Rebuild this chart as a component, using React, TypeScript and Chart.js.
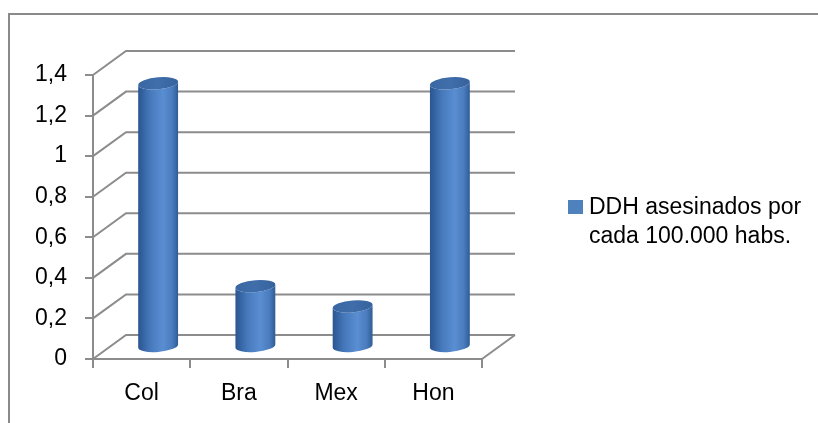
import React, { useEffect, useRef } from 'react';
import { Chart, registerables } from 'chart.js';

Chart.register(...registerables);

// ---- data ----
const categories = ['Col', 'Bra', 'Mex', 'Hon'];
const values = [1.3, 0.3, 0.2, 1.3];
const seriesLabel = ['DDH asesinados por', 'cada 100.000 habs.'];
const yMin = 0;
const yMax = 1.4;
const yStep = 0.2;

// ---- style ----
const FONT = '"Liberation Sans", Arial, sans-serif';
const FONT_SIZE = 23;
const GRID = '#8C8C8C';
const DX = 33;
const DY = -24;
const SERIES_COLOR = '#4F81BD';

const fmt = (v: number) => String(Math.round(v * 10) / 10).replace('.', ',');

const wallsPlugin = {
  id: 'walls3d',
  beforeDraw(chart: any) {
    const ctx = chart.ctx;
    ctx.save();
    ctx.strokeStyle = '#8A8A8A';
    ctx.lineWidth = 2;
    ctx.beginPath();
    ctx.moveTo(9, chart.height + 5);
    ctx.lineTo(9, 14);
    ctx.lineTo(chart.width + 5, 14);
    ctx.stroke();
    ctx.restore();
  },
  beforeDatasetsDraw(chart: any) {
    const ctx = chart.ctx;
    const y = chart.scales.y;
    const x = chart.scales.x;
    const { left, right, bottom } = chart.chartArea;
    ctx.save();
    ctx.strokeStyle = GRID;
    ctx.lineWidth = 2;
    ctx.lineCap = 'butt';
    y.ticks.forEach((t: any) => {
      const py = y.getPixelForValue(t.value);
      ctx.beginPath();
      ctx.moveTo(left, py);
      ctx.lineTo(left + DX, py + DY);
      ctx.lineTo(right + DX, py + DY);
      ctx.stroke();
    });
    // floor right edge
    ctx.beginPath();
    ctx.moveTo(x.right, bottom);
    ctx.lineTo(x.right + DX, bottom + DY);
    ctx.stroke();
    ctx.restore();
  },
  afterDatasetsDraw(chart: any) {
    const ctx = chart.ctx;
    const meta = chart.getDatasetMeta(0);
    const shear = -0.08;
    meta.data.forEach((bar: any) => {
      const { x, y, base, width } = bar.getProps(['x', 'y', 'base', 'width'], true);
      const cx = x + DX / 2;
      const top = y + DY / 2;
      const bot = base + DY / 2;
      const rx = width / 2;
      const ry = 6;
      ctx.save();
      ctx.transform(1, shear, 0, 1, 0, -shear * cx);
      const g = ctx.createLinearGradient(cx - rx, 0, cx + rx, 0);
      g.addColorStop(0, '#2A5590');
      g.addColorStop(0.3, '#4679BC');
      g.addColorStop(0.62, '#5A8ED2');
      g.addColorStop(0.85, '#4A7CBE');
      g.addColorStop(1, '#2E5C96');
      ctx.fillStyle = g;
      ctx.beginPath();
      ctx.moveTo(cx - rx, top);
      ctx.lineTo(cx - rx, bot);
      ctx.ellipse(cx, bot, rx, ry, 0, Math.PI, 0, true);
      ctx.lineTo(cx + rx, top);
      ctx.ellipse(cx, top, rx, ry, 0, 0, Math.PI, false);
      ctx.closePath();
      ctx.fill();
      const gt = ctx.createLinearGradient(cx - rx, 0, cx + rx, 0);
      gt.addColorStop(0, '#3A67A2');
      gt.addColorStop(0.5, '#3F6EAB');
      gt.addColorStop(1, '#36629C');
      ctx.fillStyle = gt;
      ctx.beginPath();
      ctx.ellipse(cx, top, rx, ry, 0, 0, Math.PI * 2);
      ctx.fill();
      ctx.restore();
    });
  },
  afterDraw(chart: any) {
    const ctx = chart.ctx;
    ctx.save();
    ctx.fillStyle = SERIES_COLOR;
    ctx.fillRect(568, 200, 15, 14);
    ctx.fillStyle = '#000';
    ctx.font = `${FONT_SIZE}px ${FONT}`;
    ctx.textBaseline = 'alphabetic';
    ctx.textAlign = 'left';
    seriesLabel.forEach((line, i) => {
      ctx.fillText(line, 589, 214 + i * 29);
    });
    ctx.restore();
  },
};

export default function App() {
  const ref = useRef<HTMLCanvasElement>(null);
  useEffect(() => {
    if (!ref.current) return;
    const chart = new Chart(ref.current, {
      type: 'bar',
      data: {
        labels: categories,
        datasets: [
          {
            label: seriesLabel.join(' '),
            data: values,
            backgroundColor: 'rgba(0,0,0,0)',
            borderWidth: 0,
            categoryPercentage: 1,
            barPercentage: 0.41,
          },
        ],
      },
      options: {
        responsive: false,
        animation: false,
        events: [],
        layout: { padding: { top: 75, right: 336, bottom: 0, left: 0 } },
        plugins: {
          legend: { display: false },
          tooltip: { enabled: false },
          title: { display: false },
        },
        scales: {
          x: {
            afterFit: (s: any) => {
              s.height = 64;
            },
            grid: {
              offset: true,
              drawOnChartArea: false,
              drawTicks: true,
              tickLength: 9,
              tickColor: GRID,
              tickWidth: 2,
              color: GRID,
              lineWidth: 2,
            },
            border: { display: true, color: GRID, width: 2 },
            ticks: {
              color: '#000',
              padding: 12,
              font: { family: FONT, size: FONT_SIZE },
              maxRotation: 0,
            },
          },
          y: {
            min: yMin,
            max: yMax,
            afterFit: (s: any) => {
              s.width = 93;
            },
            grid: {
              drawOnChartArea: false,
              drawTicks: true,
              tickLength: 8,
              tickColor: GRID,
              tickWidth: 2,
              color: GRID,
              lineWidth: 2,
            },
            border: { display: true, color: GRID, width: 2 },
            ticks: {
              stepSize: yStep,
              color: '#000',
              padding: 18,
              font: { family: FONT, size: FONT_SIZE },
              callback: (v: any) => fmt(Number(v)),
            },
          },
        },
      },
      plugins: [wallsPlugin],
    });
    return () => chart.destroy();
  }, []);
  return (
    <canvas
      ref={ref}
      width={818}
      height={423}
      style={{ position: 'absolute', left: 0, top: 0, display: 'block' }}
    />
  );
}
